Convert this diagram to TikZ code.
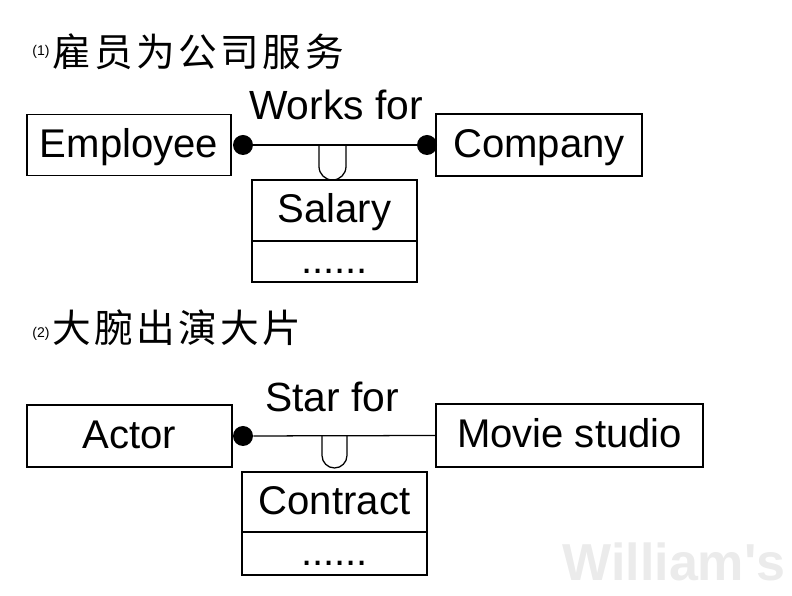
\documentclass[tikz,border=0pt]{standalone}
\usepackage{fontspec}
\setmainfont{Liberation Sans}
\newfontfamily\cjk[LetterSpace=9]{Noto Sans CJK SC}
\newfontfamily\markfont[Ligatures=TeXOff]{Liberation Sans}
\usetikzlibrary{positioning}
\newcommand{\pxu}{0.025cm}
\tikzset{
  entity/.style={draw,line width=0.9pt,inner sep=0pt,outer sep=0pt,text height=22pt,text depth=4.8pt,font=\fontsize{28.5}{28.5}\selectfont},
  attrcell/.style={draw,line width=0.9pt,inner sep=0pt,outer sep=0pt,text height=22pt,text depth=4.8pt,font=\fontsize{28.5}{28.5}\selectfont},
  morecell/.style={attrcell,text height=18pt,text depth=1.6pt},
  dotnode/.style={circle,fill=black,inner sep=0pt,minimum size=20*\pxu},
  rel/.style={line width=0.9pt},
  relname/.style={anchor=base,inner sep=0pt,font=\fontsize{29}{29}\selectfont},
  title/.style={anchor=west,inner sep=0pt,font=\cjk\fontsize{27.5}{27.5}\selectfont},
  num/.style={inner sep=0pt,font=\fontsize{10}{10}\selectfont}
}
\begin{document}
\begin{tikzpicture}[x=0.025cm,y=-0.025cm]
  \useasboundingbox (0,0) rectangle (792,596);
  \node[text=black!8,font=\markfont\bfseries\fontsize{37}{37}\selectfont] (mark) at (674,562) {William's};

  \node[num] (n1) at (41,51.5) {(1)};
  \node[title] (t1) at (52,52) {雇员为公司服务};
  \node[entity,minimum width=204*\pxu,minimum height=61*\pxu] (employee) at (129,145) {Employee};
  \node[entity,minimum width=206*\pxu,minimum height=62*\pxu] (company) at (539,145) {Company};
  \node[dotnode] (d1) at (243,145) {};
  \node[dotnode] (d2) at (427,145) {};
  \draw[rel] (d1) -- (d2);
  \node[relname] (works) at (336,120) {Works for};
  \coordinate (wu) at (332.5,145);
  \draw[rel] (wu) ++(-13.5,0) -- ++(0,21.5) arc[start angle=180,end angle=0,radius=13.5] -- ++(0,-21.5);
  \node[attrcell,minimum width=165*\pxu,minimum height=61*\pxu,anchor=north] (salary) at (334.5,180) {Salary};
  \node[morecell,minimum width=165*\pxu,minimum height=41*\pxu,below=0pt of salary] (salarymore) {......};

  \node[num] (n2) at (41,334) {(2)};
  \node[title] (t2) at (52,328) {大腕出演大片};
  \node[entity,minimum width=205*\pxu,minimum height=62*\pxu] (actor) at (129.5,436) {Actor};
  \node[entity,minimum width=267*\pxu,minimum height=63*\pxu] (studio) at (569.5,435.5) {Movie studio};
  \node[dotnode] (d3) at (243,436) {};
  \draw[rel] (d3) -- (studio.west);
  \node[relname] (star) at (332,412) {Star for};
  \coordinate (su) at (334.5,436);
  \draw[rel] (su) ++(-12.5,0) -- ++(0,19.5) arc[start angle=180,end angle=0,radius=12.5] -- ++(0,-19.5);
  \node[attrcell,minimum width=185*\pxu,minimum height=60*\pxu,anchor=north] (contract) at (334.5,472) {Contract};
  \node[morecell,minimum width=185*\pxu,minimum height=43*\pxu,below=0pt of contract] (contractmore) {......};
\end{tikzpicture}
\end{document}
